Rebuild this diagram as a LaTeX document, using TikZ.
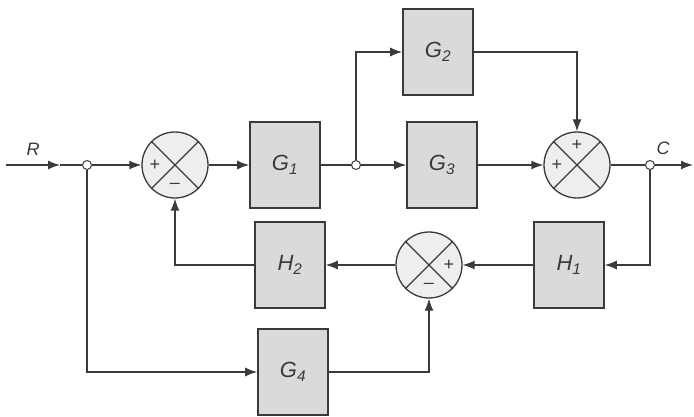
\documentclass[tikz,border=0pt]{standalone}
\usepackage{fontspec}
\setmainfont{Liberation Sans}
\usepackage{tikz}
\usetikzlibrary{arrows.meta}
\definecolor{ink}{HTML}{3A3A3A}
\definecolor{shade}{HTML}{DADADA}
\newcommand{\LblFont}{\fontsize{22}{26}\selectfont\itshape}
\newcommand{\EndFont}{\fontsize{18}{21}\selectfont\itshape}
\newcommand{\SgnFont}{\fontsize{18}{20}\selectfont}

\begin{document}
\begin{tikzpicture}[x=1pt,y=-1pt,line width=1.3pt,ink,
    >={Latex[length=12pt,width=9pt]},
    blk/.style={draw=ink,fill=shade,line width=1.6pt,minimum width=70pt,minimum height=86pt,inner sep=0pt,font=\LblFont},
    sumj/.style={circle,draw=ink,fill=shade!45,minimum size=66pt,inner sep=0pt},
    tap/.style={circle,draw=ink,fill=white,minimum size=9pt,inner sep=0pt,line width=1pt},
    sgn/.style={font=\SgnFont,inner sep=0pt}]
          \useasboundingbox (0,0) rectangle (694,417);
          \node[tap] (t1) at (87,165) {};
          \node[sumj] (s1) at (175,165) {};
          \node[blk] (g1) at (285,165) {G\textsubscript{1}};
          \node[tap] (t2) at (356,165) {};
          \node[blk] (g2) at (438,52) {G\textsubscript{2}};
          \node[blk] (g3) at (442,165) {G\textsubscript{3}};
          \node[sumj] (s2) at (577,165) {};
          \node[tap] (t3) at (650,165) {};
          \node[blk] (h1) at (569,265) {H\textsubscript{1}};
          \node[sumj] (s3) at (429,265) {};
          \node[blk] (h2) at (290,265) {H\textsubscript{2}};
          \node[blk] (g4) at (293,372) {G\textsubscript{4}};
          \coordinate (rin) at (6,165);
          \coordinate (rmid) at (60,165);
          \coordinate (cout) at (693,165);
          \node[font=\EndFont] (lblR) at (33,149) {R};
          \node[font=\EndFont] (lblC) at (663,148) {C};
          \foreach \s in {s1,s2,s3}
            \draw (\s.north west) -- (\s.south east) (\s.north east) -- (\s.south west);
          \node[sgn] (s1p) at ([xshift=-20pt]s1) {+};
          \node[sgn] (s1m) at ([yshift=-21pt]s1) {\textendash};
          \node[sgn] (s2t) at ([yshift=20pt]s2) {+};
          \node[sgn] (s2l) at ([xshift=-20pt]s2) {+};
          \node[sgn] (s3p) at ([xshift=20pt]s3) {+};
          \node[sgn] (s3m) at ([yshift=-21pt]s3) {\textendash};
          \draw[->] (rin) -- (rmid);
          \draw (rmid) -- (t1);
          \draw[->] (t1) -- (s1);
          \draw[->] (s1) -- (g1);
          \draw (g1) -- (t2);
          \draw[->] (t2) -- (g3);
          \draw[->] (t2) |- (g2);
          \draw[->] (g2) -| (s2);
          \draw[->] (g3) -- (s2);
          \draw (s2) -- (t3);
          \draw[->] (t3) -- (cout);
          \draw[->] (t3) |- (h1);
          \draw[->] (h1) -- (s3);
          \draw[->] (s3) -- (h2);
          \draw[->] (h2) -| (s1);
          \draw[->] (t1) |- (g4);
          \draw[->] (g4) -| (s3);
        \end{tikzpicture}
\end{document}
